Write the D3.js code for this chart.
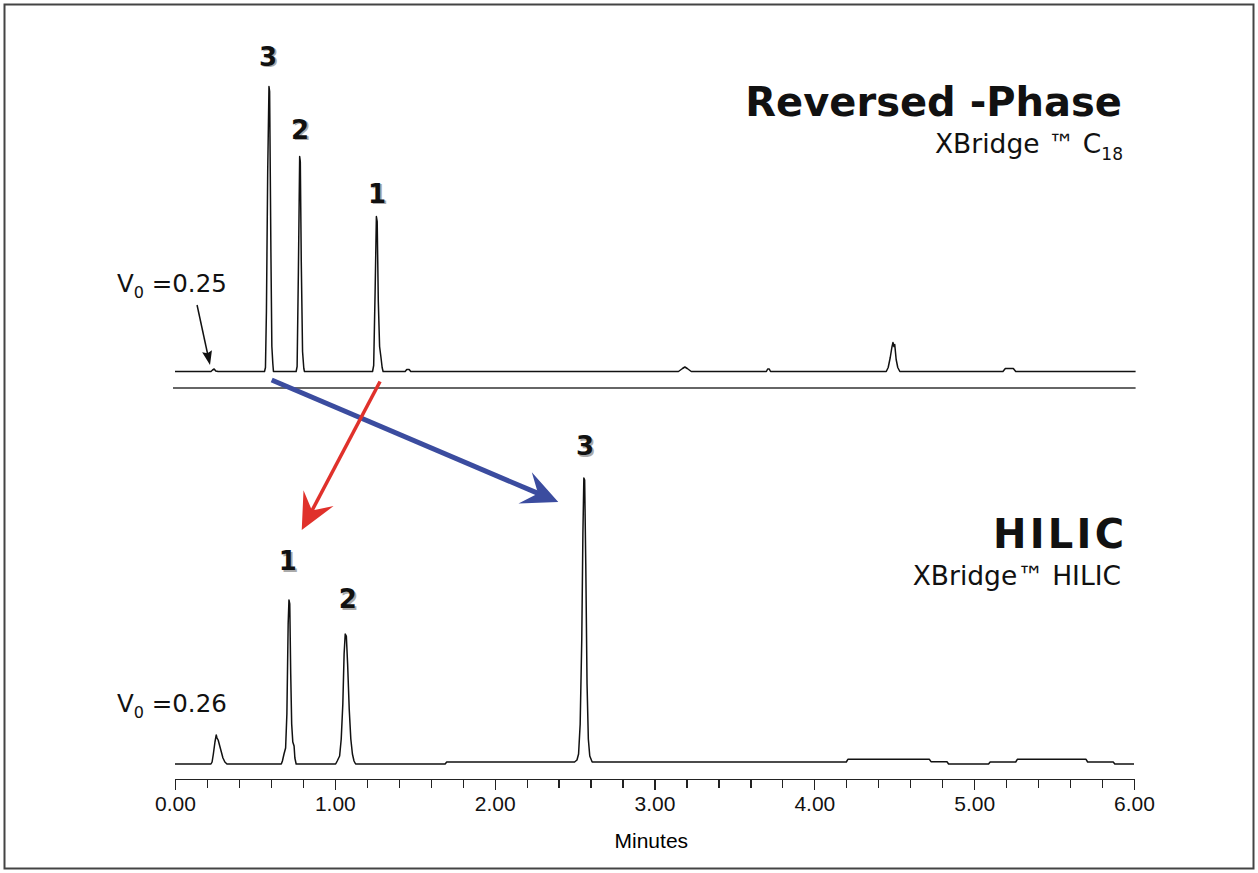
<!DOCTYPE html>
<html lang="en">
<head>
  <meta charset="utf-8">
  <title>Reversed-Phase vs HILIC</title>
  <script src="https://cdn.jsdelivr.net/npm/d3@7/dist/d3.min.js"></script>
  <style>
    body { margin: 0; background: #fff; }
    .trace { fill: none; stroke: #111; stroke-width: 1.5; stroke-linejoin: round; }
    .axis path, .axis line { stroke: #222; stroke-width: 1.2; shape-rendering: crispEdges; }
    .axis text { font-family: 'Liberation Sans', Arial, sans-serif; font-size: 21px; fill: #111; }
    .title { font-family: 'DejaVu Sans', Verdana, sans-serif; font-weight: bold; font-size: 40px; fill: #111; }
    .sub { font-family: 'DejaVu Sans', Verdana, sans-serif; font-size: 26.5px; fill: #111; }
    .peak { font-family: 'DejaVu Sans', Verdana, sans-serif; font-weight: bold; font-size: 26px; }
    .v0 { font-family: 'DejaVu Sans', Verdana, sans-serif; font-size: 24.5px; fill: #111; }
  </style>
</head>
<body>
  <svg id="chart" width="1258" height="873"></svg>
  <script>
    // Reversed-phase trace (XBridge C18): time in minutes, signal in arbitrary units
    const rpTime = [0.00, 0.225, 0.235, 0.245, 0.255, 0.270,
      0.560, 0.566, 0.572, 0.580, 0.588, 0.592, 0.600, 0.606, 0.612, 0.616,
      0.758, 0.764, 0.772, 0.780, 0.784, 0.790, 0.798, 0.806, 0.810,
      1.236, 1.243, 1.252, 1.260, 1.265, 1.272, 1.280, 1.288, 1.296, 1.302,
      1.440, 1.450, 1.465, 1.475,
      3.150, 3.175, 3.190, 3.205, 3.230,
      3.700, 3.708, 3.718, 3.726,
      4.450, 4.462, 4.475, 4.485, 4.492, 4.498, 4.503, 4.512, 4.522, 4.535,
      5.180, 5.195, 5.245, 5.260, 6.010]
    const rpSignal = [0, 0, 1.5, 2.5, 0.5, 0,
      0, 4, 60, 200, 285, 280, 120, 25, 8, 0,
      0, 5, 100, 215, 210, 110, 20, 3, 0,
      0, 6, 80, 155, 150, 70, 25, 15, 4, 0,
      0, 2, 2, 0,
      0, 3, 4.5, 3, 0,
      0, 2.5, 2.5, 0,
      0, 4, 14, 24, 29, 25, 27, 12, 4, 0,
      0, 3, 3, 0, 0]

    // HILIC trace (XBridge HILIC)
    const hTime = [0.00, 0.225, 0.232, 0.240, 0.250, 0.258, 0.263, 0.270, 0.280, 0.290, 0.300, 0.312, 0.325,
      0.665, 0.672, 0.682, 0.692, 0.700, 0.708, 0.713, 0.718, 0.724, 0.730, 0.737, 0.745, 0.750, 0.758,
      1.005, 1.015, 1.030, 1.040, 1.050, 1.058, 1.065, 1.072, 1.080, 1.090, 1.100, 1.110, 1.120, 1.130,
      1.690, 1.700,
      2.500, 2.515, 2.525, 2.535, 2.545, 2.552, 2.558, 2.563, 2.570, 2.578, 2.586, 2.595, 2.610,
      4.200, 4.210, 4.720, 4.730, 4.830, 4.840, 5.090, 5.100, 5.260, 5.270, 5.700, 5.710, 5.870, 5.880, 6.000]
    const hSignal = [0, 0, 2, 10, 22, 29, 26, 24, 18, 12, 6, 2, 0,
      0, 3, 10, 16, 50, 140, 164, 160, 90, 40, 22, 18, 6, 0,
      0, 3, 8, 25, 60, 110, 130, 128, 100, 55, 25, 10, 3, 0,
      0, 2,
      2, 4, 10, 40, 125, 230, 286, 284, 200, 80, 25, 8, 2,
      2, 4.7, 4.7, 2.3, 2.3, 0, 0, 2, 2, 4.7, 4.7, 2, 2, 0, 0]

    // peak numbers
    const rpPeakNames = ['3', '2', '1']
    const rpPeakTime = [0.582, 0.782, 1.264]
    const rpPeakLabelSignal = [306, 233, 169]
    const hPeakNames = ['1', '2', '3']
    const hPeakTime = [0.705, 1.081, 2.565]
    const hPeakLabelSignal = [194, 156, 309]

    // void volume notes
    const voidLabels = ['0.25', '0.26']

    // elution-order arrows: start in RP panel, end in HILIC panel
    const arrowStartTime = [0.605, 1.283]
    const arrowStartSignal = [-8.5, -10]
    const arrowEndTime = [2.398, 0.793]
    const arrowEndSignal = [262, 234]

    // axis
    const majorTicks = [0, 1, 2, 3, 4, 5, 6]
    const minorStep = 0.2
    const axisTitle = 'Minutes'

    const svg = d3.select('#chart')

    svg.append('rect')
      .attr('x', 4.5).attr('y', 4.5)
      .attr('width', 1249).attr('height', 864)
      .attr('fill', 'none').attr('stroke', '#444').attr('stroke-width', 2)

    const x = d3.scaleLinear().domain([0, 6]).range([175, 1134])
    const yTop = d3.scaleLinear().domain([0, 300]).range([371.5, 71.5])
    const yBot = d3.scaleLinear().domain([0, 300]).range([764, 464])

    const rpData = rpTime.map((t, i) => [t, rpSignal[i]])
    const hData = hTime.map((t, i) => [t, hSignal[i]])

    svg.append('path')
      .datum(rpData)
      .attr('class', 'trace')
      .attr('d', d3.line().x(d => x(d[0])).y(d => yTop(d[1])))

    svg.append('path')
      .datum(hData)
      .attr('class', 'trace')
      .attr('d', d3.line().x(d => x(d[0])).y(d => yBot(d[1])))

    // separator under the RP trace
    svg.append('line')
      .attr('x1', x(0) - 2).attr('x2', x(6.01))
      .attr('y1', yTop(-16.5)).attr('y2', yTop(-16.5))
      .attr('stroke', '#333').attr('stroke-width', 1.4)

    // axis
    const minorTicks = d3.range(0, 6 + 1e-9, minorStep).filter(v => Math.abs(v - Math.round(v)) > 1e-6)
    const axisY = 779
    svg.append('g')
      .attr('class', 'axis')
      .attr('transform', `translate(0,${axisY})`)
      .call(d3.axisBottom(x).tickValues(minorTicks).tickSize(9).tickSizeOuter(0).tickFormat(''))
    svg.append('g')
      .attr('class', 'axis')
      .attr('transform', `translate(0,${axisY})`)
      .call(d3.axisBottom(x).tickValues(majorTicks).tickSize(11).tickSizeOuter(0).tickPadding(6).tickFormat(d3.format('.2f')))

    svg.append('text')
      .attr('x', x(2.98)).attr('y', 848)
      .attr('text-anchor', 'middle')
      .style('font-family', "'Liberation Sans', Arial, sans-serif")
      .style('font-size', '21px')
      .text(axisTitle)

    // titles
    svg.append('text').attr('class', 'title')
      .attr('x', 1122).attr('y', 116).attr('text-anchor', 'end')
      .text('Reversed -Phase')
    const sub1 = svg.append('text').attr('class', 'sub')
      .attr('x', 1123).attr('y', 153).attr('text-anchor', 'end')
    sub1.append('tspan').text('XBridge ™ C')
    sub1.append('tspan').attr('dy', 7).style('font-size', '17px').text('18')

    svg.append('text').attr('class', 'title')
      .attr('x', 993).attr('y', 548)
      .attr('textLength', 131).attr('lengthAdjust', 'spacing')
      .text('HILIC')
    svg.append('text').attr('class', 'sub')
      .attr('x', 1121).attr('y', 585).attr('text-anchor', 'end')
      .text('XBridge™  HILIC')

    // peak number labels with soft shadow
    function peakLabels (names, times, sig, y) {
      const g = svg.append('g')
      names.forEach((n, i) => {
        g.append('text').attr('class', 'peak')
          .attr('x', x(times[i]) + 1.8).attr('y', y(sig[i]) + 1.8)
          .attr('text-anchor', 'middle').attr('fill', '#aaa').text(n)
        g.append('text').attr('class', 'peak')
          .attr('x', x(times[i])).attr('y', y(sig[i]))
          .attr('text-anchor', 'middle').attr('fill', '#111').text(n)
      })
    }
    peakLabels(rpPeakNames, rpPeakTime, rpPeakLabelSignal, yTop)
    peakLabels(hPeakNames, hPeakTime, hPeakLabelSignal, yBot)

    // V0 labels
    function voidLabel (val, yPos) {
      const t = svg.append('text').attr('class', 'v0').attr('x', 117).attr('y', yPos)
      t.append('tspan').text('V')
      t.append('tspan').attr('dy', 6).style('font-size', '16px').text('0')
      t.append('tspan').attr('dy', -6).text(' =' + val)
    }
    voidLabel(voidLabels[0], 292)
    voidLabel(voidLabels[1], 712)

    // arrow helper
    function arrow (x1, y1, x2, y2, opt) {
      const dx = x2 - x1
      const dy = y2 - y1
      const len = Math.hypot(dx, dy)
      const ux = dx / len
      const uy = dy / len
      const px = -uy
      const py = ux
      const notchX = x2 - ux * opt.notch
      const notchY = y2 - uy * opt.notch
      svg.append('line')
        .attr('x1', x1).attr('y1', y1)
        .attr('x2', notchX + ux * 2).attr('y2', notchY + uy * 2)
        .attr('stroke', opt.color).attr('stroke-width', opt.width)
      const bx = x2 - ux * opt.head
      const by = y2 - uy * opt.head
      const pts = [
        [x2, y2],
        [bx + px * opt.half, by + py * opt.half],
        [notchX, notchY],
        [bx - px * opt.half, by - py * opt.half]
      ]
      svg.append('path')
        .attr('d', 'M' + pts.map(p => p.join(',')).join('L') + 'Z')
        .attr('fill', opt.color)
    }

    // V0 pointer (RP)
    arrow(x(0.138), yTop(66.5), x(0.219), yTop(6.5), { color: '#111', width: 1.5, head: 14, half: 5, notch: 12 })

    const arrowColors = ['#3b4c9f', '#e0312b']
    const arrowWidths = [5, 3.5]
    arrowStartTime.forEach((t, i) => {
      arrow(x(t), yTop(arrowStartSignal[i]), x(arrowEndTime[i]), yBot(arrowEndSignal[i]),
        { color: arrowColors[i], width: arrowWidths[i], head: 36, half: 17, notch: 22 })
    })
  </script>
</body>
</html>
